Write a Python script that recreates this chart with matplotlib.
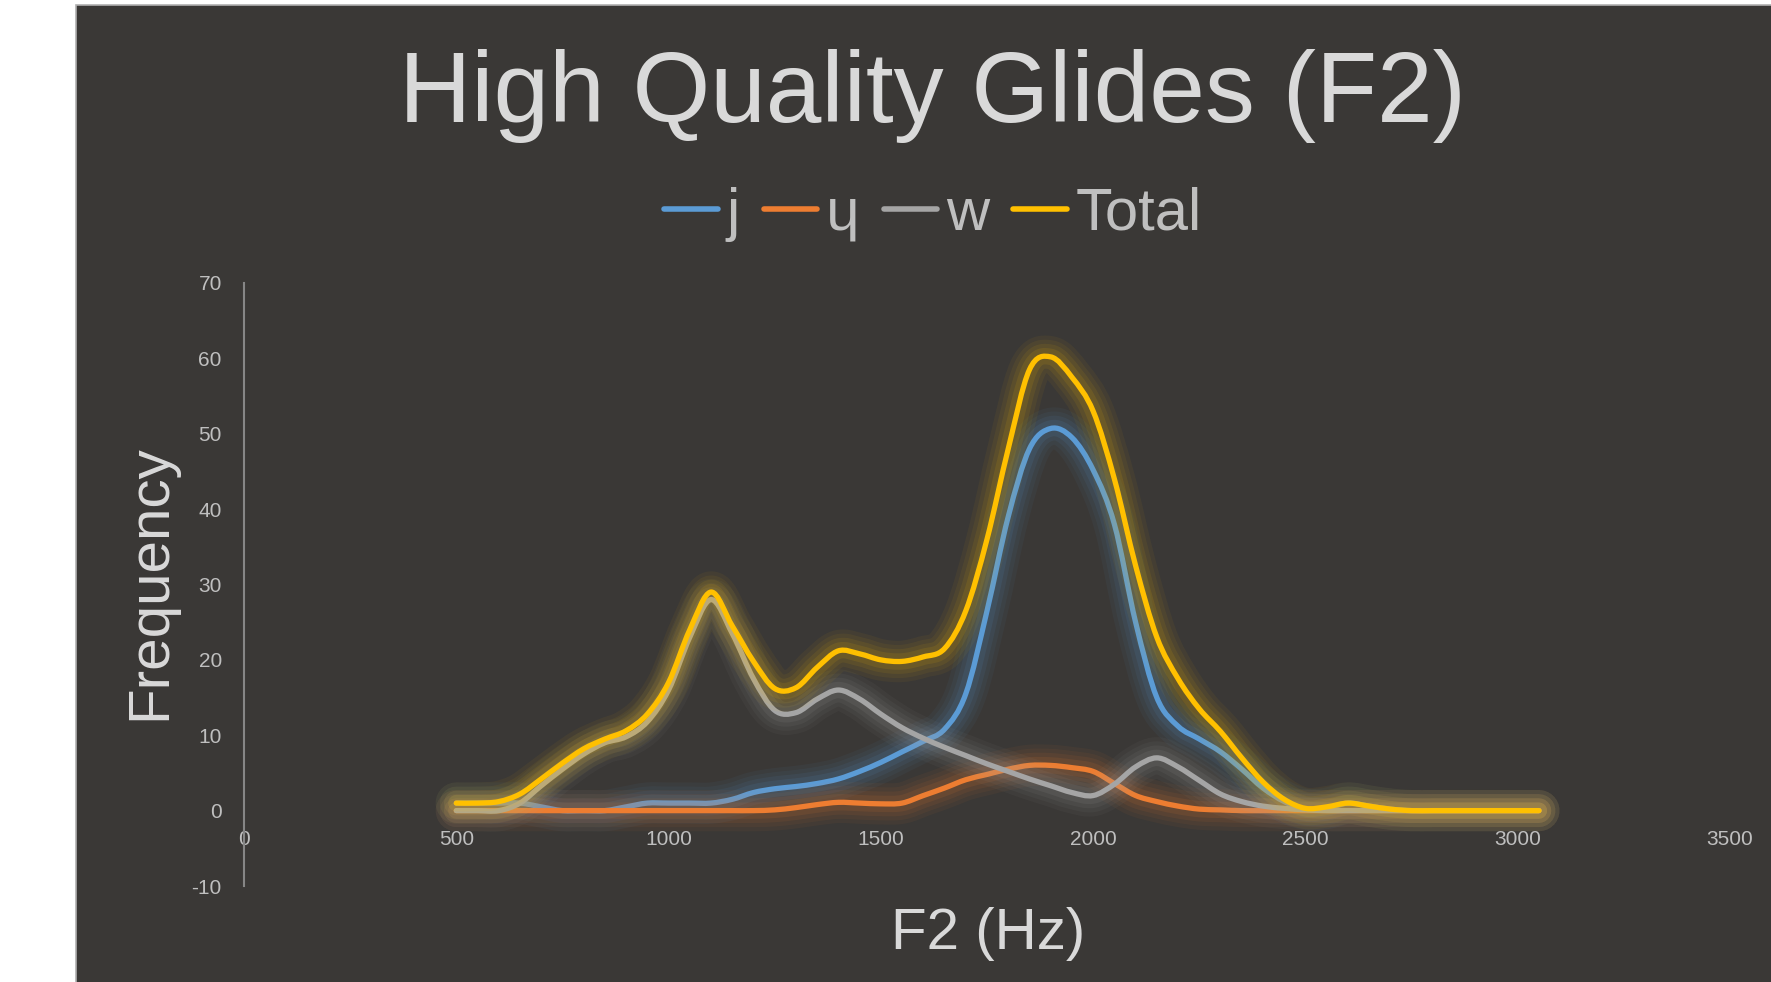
import numpy as np
import matplotlib
matplotlib.use('Agg')
import matplotlib.pyplot as plt
from matplotlib.path import Path
from matplotlib.patches import PathPatch, Rectangle
from matplotlib.lines import Line2D
import matplotlib.patheffects as pe

plt.rcParams['axes.unicode_minus'] = False

# F2 bins (Hz) and counts per glide
f2_hz = np.arange(500, 3051, 50)

j_counts = [1, 1, 1, 1, 0.5, 0, 0, 0, 0.5, 1,
            1, 1, 1, 1.5, 2.4, 2.9, 3.2, 3.6, 4.2, 5.2,
            6.4, 7.8, 9.2, 10.8, 15.5, 26.5, 39, 48, 50.7, 49.5,
            45.2, 38, 25, 15, 11.2, 9.5, 7.8, 5.5, 3, 1.2,
            0.2, 0.3, 1, 0.6, 0.2, 0, 0, 0, 0, 0,
            0, 0]

yu_counts = [0, 0, 0, 0, 0, 0, 0, 0, 0, 0,
             0, 0, 0, 0, 0, 0.1, 0.4, 0.8, 1.1, 1,
             0.9, 1, 2, 3, 4.1, 4.8, 5.5, 6, 6, 5.7,
             5.2, 3.6, 2, 1.2, 0.6, 0.2, 0.1, 0, 0, 0,
             0, 0, 0, 0, 0, 0, 0, 0, 0, 0,
             0, 0]

w_counts = [0, 0, 0, 1, 3.3, 5.5, 7.5, 9, 9.8, 11.8,
            16, 23, 28, 23.5, 17.5, 13.3, 13, 14.8, 16, 14.8,
            12.8, 11, 9.6, 8.4, 7.3, 6.2, 5.2, 4.2, 3.3, 2.4,
            2, 3.5, 5.8, 7, 5.8, 4, 2.2, 1.2, 0.6, 0.3,
            0.1, 0, 0, 0, 0, 0, 0, 0, 0, 0,
            0, 0]

total_counts = [1, 1, 1.2, 2.2, 4.2, 6.3, 8.2, 9.5, 10.6, 12.8,
                17, 24, 29, 24.5, 19.8, 16.2, 16.3, 19, 21.2, 20.8,
                20, 19.8, 20.4, 21.5, 26.5, 36, 48, 58.5, 60.2, 57.5,
                53, 44, 32.5, 23, 17.5, 13.5, 10.5, 7, 3.8, 1.5,
                0.3, 0.5, 1, 0.6, 0.2, 0, 0, 0, 0, 0,
                0, 0]

series_names = ['j', 'ɥ', 'w', 'Total']
series_values = [j_counts, yu_counts, w_counts, total_counts]
series_colors = ['#5b9bd5', '#ed7d31', '#a5a5a5', '#ffc000']

fonts = ['Liberation Sans', 'DejaVu Sans']
bg = '#3a3836'


def smooth_path(x, y):
    # Excel-like smoothed line: cubic Bezier through every point
    pts = np.column_stack([x, y]).astype(float)
    n = len(pts)
    verts = [pts[0]]
    codes = [Path.MOVETO]
    for i in range(n - 1):
        p0 = pts[max(i - 1, 0)]
        p1 = pts[i]
        p2 = pts[i + 1]
        p3 = pts[min(i + 2, n - 1)]
        verts += [p1 + (p2 - p0) / 6, p2 - (p3 - p1) / 6, p2]
        codes += [Path.CURVE4] * 3
    return Path(verts, codes)


W, H = 1771, 982
fig = plt.figure(figsize=(W / 100, H / 100), dpi=100, facecolor='white')
fig.add_artist(Rectangle((76 / W, -0.01), 1.01 - 76 / W, 1.01 - 5 / H,
                         transform=fig.transFigure, facecolor=bg,
                         edgecolor='#b0b0b0', lw=1.2, zorder=0))

ax = fig.add_axes([244 / W, 1 - 886 / H, (1730 - 244) / W, (886 - 283) / H])
ax.set_facecolor('none')
ax.set_xlim(0, 3500)
ax.set_ylim(-10, 70)

lw = 3.8
for name, vals, col in zip(series_names, series_values, series_colors):
    glow = [pe.Stroke(linewidth=lw + g, foreground=col, alpha=a)
            for g, a in ((26, 0.05), (20, 0.06), (14, 0.08), (8, 0.1))]
    patch = PathPatch(smooth_path(f2_hz, vals), fill=False, edgecolor=col,
                      lw=lw, capstyle='round', joinstyle='round',
                      path_effects=glow + [pe.Normal()])
    ax.add_patch(patch)

for s in ['top', 'right']:
    ax.spines[s].set_visible(False)
ax.spines['bottom'].set_position(('data', 0))
ax.spines['bottom'].set_color('none')
ax.spines['left'].set_color('#868686')
ax.spines['left'].set_linewidth(1.5)

ax.set_xticks(np.arange(0, 3501, 500))
ax.set_yticks(np.arange(-10, 71, 10))
ax.tick_params(axis='x', length=0, pad=14, labelsize=15, labelcolor='#bfbfbf')
ax.tick_params(axis='y', length=0, pad=16, labelsize=15, labelcolor='#bfbfbf')
for lab in ax.get_xticklabels() + ax.get_yticklabels():
    lab.set_family(fonts)

fig.text(932 / W, 1 - 96 / H, 'High Quality Glides (F2)', ha='center', va='center',
         fontsize=72, color='#d9d9d9', family=fonts)
fig.text(150 / W, 1 - 582 / H, 'Frequency', rotation=90, ha='center', va='center',
         fontsize=42, color='#d9d9d9', family=fonts)
fig.text(988 / W, 1 - 934 / H, 'F2 (Hz)', ha='center', va='center',
         fontsize=42, color='#d9d9d9', family=fonts)

handles = [Line2D([], [], color=c, lw=4, solid_capstyle='round') for c in series_colors]
fig.legend(handles, series_names, loc='center', bbox_to_anchor=(933 / W, 1 - 214 / H),
           ncol=4, frameon=False, prop={'family': fonts, 'size': 43},
           handlelength=0.9, handletextpad=0.15, columnspacing=0.4,
           labelcolor='#bfbfbf')

fig.savefig('out.png', dpi=100, facecolor='white')
